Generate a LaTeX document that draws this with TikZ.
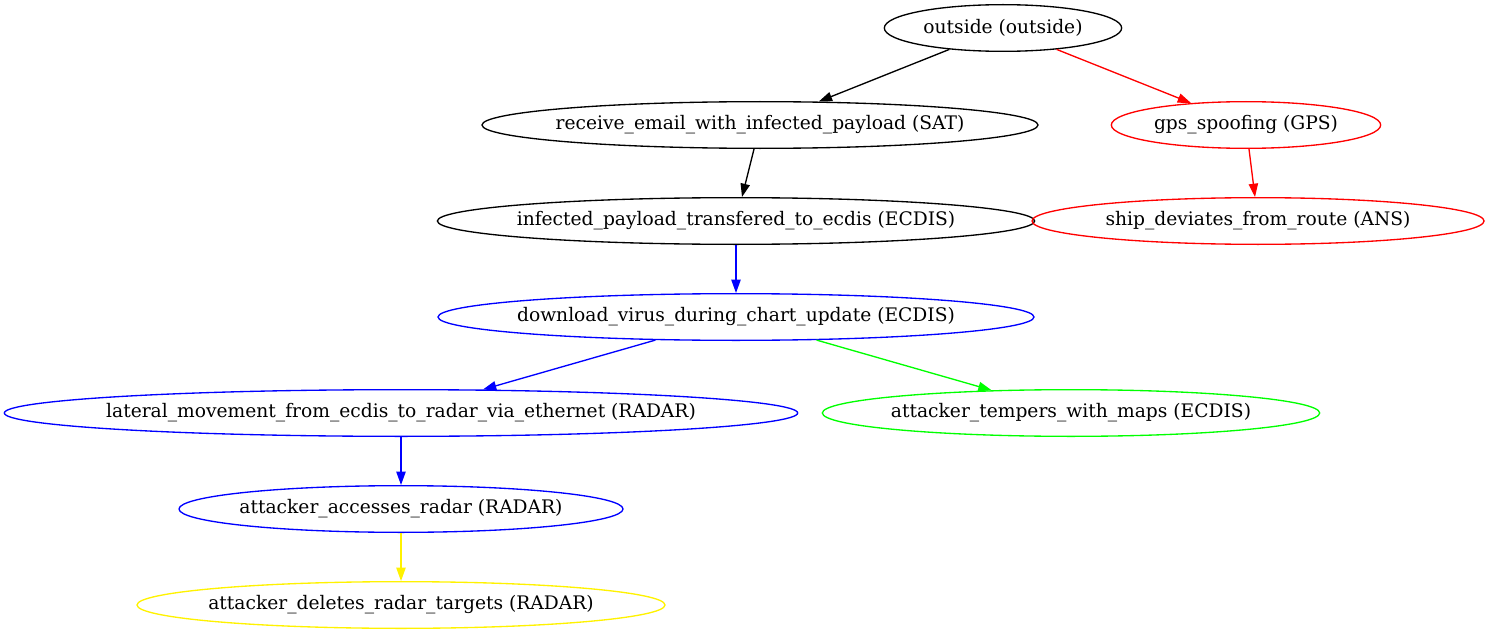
\documentclass[tikz,border=0pt]{standalone}
\usepackage{fontspec}
\setmainfont{DejaVu Serif}
\usetikzlibrary{shapes.geometric, arrows.meta}
\tikzset{>={Triangle[length=10pt, width=7pt]}}
\tikzset{attack/.style={ellipse, draw, line width=1pt, inner sep=0pt, minimum height=35pt, label={[font=\fontsize{14}{16}\selectfont]center:#1}}}

\begin{document}
\begin{tikzpicture}[x=0.75pt, y=-0.75pt, line width=1pt]
\useasboundingbox (0,0) rectangle (1489,635);
\node[attack={outside (outside)}, minimum width=178pt] (outside) at (1003,28) {};
\node[attack={receive\_email\_with\_infected\_payload (SAT)}, minimum width=417pt] (email) at (760,125) {};
\node[attack={gps\_spoofing (GPS)}, draw=red, minimum width=202pt] (gps) at (1246,125) {};
\node[attack={infected\_payload\_transfered\_to\_ecdis (ECDIS)}, minimum width=448pt] (transfer) at (736,221) {};
\node[attack={ship\_deviates\_from\_route (ANS)}, draw=red, minimum width=339pt] (deviate) at (1258,221) {};
\node[attack={download\_virus\_during\_chart\_update (ECDIS)}, draw=blue, minimum width=447pt] (download) at (736,317) {};
\node[attack={lateral\_movement\_from\_ecdis\_to\_radar\_via\_ethernet (RADAR)}, draw=blue, minimum width=595pt] (lateral) at (401,413) {};
\node[attack={attacker\_tempers\_with\_maps (ECDIS)}, draw=green, minimum width=373pt] (maps) at (1071,413) {};
\node[attack={attacker\_accesses\_radar (RADAR)}, draw=blue, minimum width=333pt] (access) at (401,509) {};
\node[attack={attacker\_deletes\_radar\_targets (RADAR)}, draw=yellow, minimum width=396pt] (delete) at (401,605) {};
\draw[->] (outside) -- (email);
\draw[->, red] (outside) -- (gps);
\draw[->] (email) -- (transfer);
\draw[->, red] (gps) -- (deviate);
\draw[->, blue] (transfer) -- (download);
\draw[->, blue] (download) -- (lateral);
\draw[->, green] (download) -- (maps);
\draw[->, blue] (lateral) -- (access);
\draw[->, yellow] (access) -- (delete);
\end{tikzpicture}
\end{document}
